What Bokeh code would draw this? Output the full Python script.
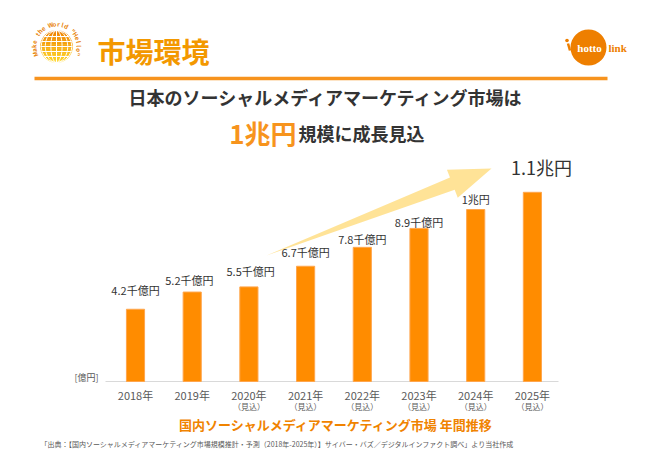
import numpy as np
from bokeh.plotting import figure
from bokeh.models import Range1d, ColumnDataSource
from bokeh.core.properties import value
from bokeh.embed import file_html
from bokeh.resources import INLINE

# ---------------- data ----------------
years = ["2018年", "2019年", "2020年", "2021年", "2022年", "2023年", "2024年", "2025年"]
year_notes = ["", "", "（見込）", "（見込）", "（見込）", "（見込）", "（見込）", "（見込）"]
market_oku = [4200, 5200, 5500, 6700, 7800, 8900, 10000, 11000]   # 億円
value_labels = ["4.2千億円", "5.2千億円", "5.5千億円", "6.7千億円", "7.8千億円", "8.9千億円", "1兆円", "1.1兆円"]

title_line1 = "日本のソーシャルメディアマーケティング市場は"
title_big = "1兆円"
title_rest = "規模に成長見込"
header = "市場環境"
subtitle = "国内ソーシャルメディアマーケティング市場 年間推移"
unit_label = "[億円]"
source_note = "「出典：【国内ソーシャルメディアマーケティング市場規模推計・予測（2018年-2025年）】サイバー・バズ／デジタルインファクト調べ」より当社作成"

# ---------------- layout (page pixels) ----------------
FONT = value("Noto Sans CJK JP")
W, H = 650, 452
X0, Y0 = 0, 0
slot_px = 56.7
first_center = 135.0
baseline_px = 381.0
px_per_oku = 0.0172
label_gap_px = [19, 12, 16, 14, 8, 6, 11, 25]
label_dx = [0, -0.05, 0.03, 0, 0, 0, 0, 0.16]

ORANGE = "#FF8C00"
TXT = "#333333"
GRAY = "#595959"

x_range = Range1d((X0 - first_center) / slot_px, (X0 + W - first_center) / slot_px)
y_range = Range1d(-(Y0 + H - baseline_px) / px_per_oku, (baseline_px - Y0) / px_per_oku)

p = figure(width=W, height=H, x_range=x_range, y_range=y_range,
           output_backend="svg", toolbar_location=None, min_border=0,
           x_axis_location=None, y_axis_location=None,
           outline_line_color=None, background_fill_color="white",
           border_fill_color="white")
for g in p.grid:
    g.visible = False
p.extra_x_ranges = {"px": Range1d(X0, X0 + W)}
p.extra_y_ranges = {"py": Range1d(Y0 + H, Y0)}
PX = dict(x_range_name="px", y_range_name="py")

idx = np.arange(len(years))

# ---------------- header ----------------
cx, cy, r = 56.0, 46.0, 16.0
nb = 14
edges = np.linspace(cy - r, cy + r, nb + 1)
c_top = np.array([240, 130, 0]); c_bot = np.array([255, 214, 40])
bxs, bys, bcols = [], [], []
for k in range(nb):
    yy = np.linspace(edges[k], edges[k + 1], 6)
    hw = np.sqrt(np.clip(r ** 2 - (yy - cy) ** 2, 0, None))
    bxs.append(list(cx - hw) + list((cx + hw)[::-1]))
    bys.append(list(yy) + list(yy[::-1]))
    t = k / (nb - 1)
    c = (c_top * (1 - t) + c_bot * t).astype(int)
    bcols.append("#%02x%02x%02x" % tuple(c))
p.patches(bxs, bys, fill_color=bcols, line_color=bcols, line_width=0.5, **PX)
lat_x0, lat_x1, lat_y = [], [], []
for d in [-10, -5, 0, 5, 10]:
    hw = np.sqrt(r ** 2 - d ** 2)
    lat_x0.append(cx - hw); lat_x1.append(cx + hw); lat_y.append(cy + d)
p.segment(x0=lat_x0, x1=lat_x1, y0=lat_y, y1=lat_y, line_color="white", line_width=1, **PX)
tt = np.linspace(-np.pi / 2, np.pi / 2, 30)
mxs, mys = [], []
for a in [0.35, 0.7, 0.95]:
    for s in [-1, 1]:
        mxs.append(list(cx + s * a * r * np.cos(tt)))
        mys.append(list(cy + r * np.sin(tt)))
mxs.append([cx, cx]); mys.append([cy - r, cy + r])
p.multi_line(mxs, mys, line_color="white", line_width=1, **PX)
arc_txt = "Make the World \"Hello\""
th = np.linspace(np.radians(200), np.radians(-20), len(arc_txt))
R = 22.5
p.text(x=list(cx + R * np.cos(th)), y=list(cy - R * np.sin(th)), text=list(arc_txt),
       angle=list(th - np.pi / 2), text_font=FONT, text_font_size="6px", text_font_style="bold",
       text_color="#E8840A", text_align="center", text_baseline="middle", **PX)

p.text(x=[97], y=[50], text=[header], text_font=FONT, text_font_size="28px",
       text_font_style="bold", text_color="#F39800", text_align="left",
       text_baseline="middle", **PX)
p.segment(x0=[34], x1=[607], y0=[78], y1=[78], line_color="#F7931E", line_width=3.5, **PX)

# hottolink logo
p.circle(x=[588], y=[47], radius=18, fill_color="#EE7F00", line_color=None, **PX)
p.circle(x=[566.5], y=[40], radius=1.8, fill_color="#EE7F00", line_color=None, **PX)
p.segment(x0=[567.5], x1=[569.5], y0=[43], y1=[50], line_color="#EE7F00", line_width=2.5, **PX)
p.text(x=[589], y=[47], text=["hotto"], text_font=value("Liberation Serif"),
       text_font_size="11px", text_font_style="bold", text_color="white",
       text_align="center", text_baseline="middle", **PX)
p.text(x=[608], y=[47], text=["link"], text_font=value("Liberation Serif"),
       text_font_size="11px", text_font_style="bold", text_color="#EE7F00",
       text_align="left", text_baseline="middle", **PX)

# ---------------- titles ----------------
p.text(x=[326], y=[96], text=[title_line1], text_font=FONT, text_font_size="18px",
       text_font_style="bold", text_color=TXT, text_align="center",
       text_baseline="middle", **PX)
p.text(x=[296], y=[132], text=[title_big], text_font=FONT, text_font_size="26px",
       text_font_style="bold", text_color="#F7941D", text_align="right",
       text_baseline="alphabetic", **PX)
p.text(x=[298], y=[132], text=[title_rest], text_font=FONT, text_font_size="18px",
       text_font_style="bold", text_color=TXT, text_align="left",
       text_baseline="alphabetic", **PX)

# ---------------- arrow ----------------
T = np.array([266.0, 255.0]); P = np.array([491.0, 168.0])
u = (P - T) / np.linalg.norm(P - T)
n = np.array([-u[1], u[0]])
B = P - 42 * u
pts = [T, B + 6.5 * n, B + 15 * n, P, B - 15 * n, B - 6.5 * n]
p.patch([q[0] for q in pts], [q[1] for q in pts], fill_color="#FFE08C",
        fill_alpha=0.9, line_color=None, **PX)

# ---------------- bars ----------------
p.segment(x0=[105], x1=[558], y0=[381], y1=[381], line_color="#D9D9D9", line_width=1, **PX)
p.vbar(x=idx, top=market_oku, bottom=0, width=0.32, fill_color=ORANGE,
       line_color="#FFA64D", line_width=1)

lab_y = [v + g / px_per_oku for v, g in zip(market_oku, label_gap_px)]
lab_x = [i + d for i, d in zip(idx, label_dx)]
src = ColumnDataSource(dict(x=lab_x[:-1], y=lab_y[:-1], t=value_labels[:-1]))
p.text(x="x", y="y", text="t", source=src, text_font=FONT, text_font_size="11px",
       text_color=TXT, text_align="center", text_baseline="middle")
p.text(x=[lab_x[-1]], y=[lab_y[-1]], text=[value_labels[-1]], text_font=FONT,
       text_font_size="18px", text_color=TXT, text_align="center", text_baseline="middle")

p.text(x=idx, y=[394] * len(idx), text=years, text_font=FONT, text_font_size="11px",
       text_color=GRAY, text_align="center", text_baseline="middle", y_range_name="py")
p.text(x=idx, y=[406] * len(idx), text=year_notes, text_font=FONT, text_font_size="8px",
       text_color=GRAY, text_align="center", text_baseline="middle", y_range_name="py")
p.text(x=[74], y=[377], text=[unit_label], text_font=FONT, text_font_size="9px",
       text_color=GRAY, text_align="left", text_baseline="middle", **PX)

p.text(x=[336], y=[424], text=[subtitle], text_font=FONT, text_font_size="13px",
       text_font_style="bold", text_color="#F08300", text_align="center",
       text_baseline="middle", **PX)
p.text(x=[40], y=[443], text=[source_note], text_font=FONT, text_font_size="7px",
       text_color=GRAY, text_align="left", text_baseline="middle", **PX)

open("out.html", "w").write(file_html(p, INLINE))
